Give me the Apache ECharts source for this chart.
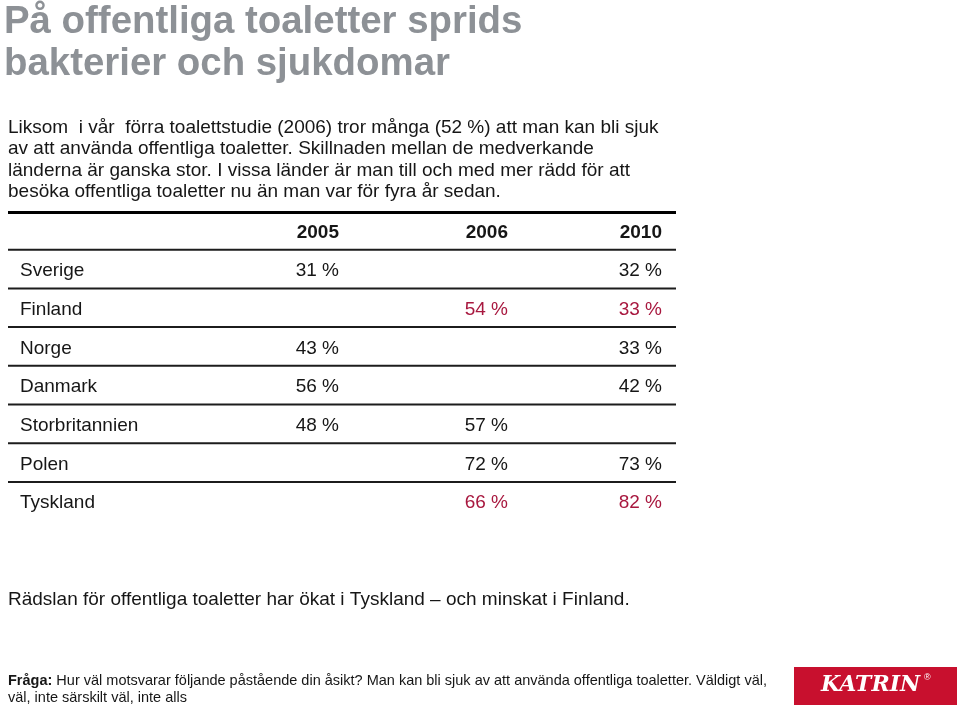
<!DOCTYPE html>
<html><head><meta charset="utf-8">
<script src="https://cdn.jsdelivr.net/npm/echarts@6/dist/echarts.min.js"></script>
<style>html,body{margin:0;padding:0;background:#fff}#c{width:960px;height:706px}</style>
</head><body><div id="c"></div>
<script>
// ---- content ----
const titleText = 'På offentliga toaletter sprids\nbakterier och sjukdomar';
const introLines = [
  'Liksom  i vår  förra toalettstudie (2006) tror många (52 %) att man kan bli sjuk',
  'av att använda offentliga toaletter. Skillnaden mellan de medverkande',
  'länderna är ganska stor. I vissa länder är man till och med mer rädd för att',
  'besöka offentliga toaletter nu än man var för fyra år sedan.'
];
const columns = ['2005', '2006', '2010'];
const countries = ['Sverige', 'Finland', 'Norge', 'Danmark', 'Storbritannien', 'Polen', 'Tyskland'];
const values2005 = [31, null, 43, 56, 48, null, null];
const values2006 = [null, 54, null, null, 57, 72, 66];
const values2010 = [32, 33, 33, 42, null, 73, 82];
const highlightedCountries = ['Finland', 'Tyskland'];
const conclusionText = 'Rädslan för offentliga toaletter har ökat i Tyskland – och minskat i Finland.';
const questionLabel = 'Fråga:';
const questionText = ' Hur väl motsvarar följande påstående din åsikt? Man kan bli sjuk av att använda offentliga toaletter. Väldigt väl,\nväl, inte särskilt väl, inte alls';
const brandText = 'KATRIN';

// ---- styles ----
const FONT = '"Liberation Sans", Arial, Helvetica, sans-serif';
const TEXT = '#161616';
const RED = '#a8183f';
const colRightPad = [3, 1, 14];

// ---- build table data ----
const valueColumns = [values2005, values2006, values2010];
const rowCats = [''].concat(countries);
const cellData = [];
columns.forEach((c, j) => cellData.push([j + 1, 0, 0, 0]));
countries.forEach((name, i) => {
  valueColumns.forEach((vals, j) => {
    if (vals[i] != null) cellData.push([j + 1, i + 1, vals[i], highlightedCountries.includes(name) ? 1 : 0]);
  });
});
const ruleData = rowCats.slice(0, rowCats.length - 1).map((c, i) => [0, i]);

const chart = echarts.init(document.getElementById('c'), null, {renderer: 'canvas'});
chart.setOption({
  backgroundColor: '#ffffff',
  animation: false,
  grid: {left: 8, right: 284, top: 211, bottom: 185.4, containLabel: false},
  xAxis: {type: 'category', data: [''].concat(columns), show: false},
  yAxis: {
    type: 'category', data: rowCats, inverse: true,
    axisLine: {show: false}, axisTick: {show: false}, splitLine: {show: false},
    axisLabel: {
      inside: true, margin: 12, align: 'left', interval: 0,
      formatter: function (v) { return v ? '{c|' + v + '}' : ''; },
      rich: {c: {fontSize: 19, color: TEXT, fontFamily: FONT, padding: [4, 0, 0, 0]}}
    }
  },
  series: [
    {
      type: 'custom', name: 'rules', data: ruleData, silent: true,
      encode: {x: 0, y: 1},
      renderItem: function (params, api) {
        const row = api.value(1);
        const p = api.coord([0, row]);
        const bh = api.size([0, 1])[1];
        const cs = params.coordSys;
        const children = [{
          type: 'line',
          shape: {x1: cs.x, y1: p[1] + bh / 2, x2: cs.x + cs.width, y2: p[1] + bh / 2},
          style: {stroke: '#1c1c1c', lineWidth: 2}
        }];
        if (row === 0) {
          children.push({
            type: 'line',
            shape: {x1: cs.x, y1: p[1] - bh / 2 + 1.5, x2: cs.x + cs.width, y2: p[1] - bh / 2 + 1.5},
            style: {stroke: '#000', lineWidth: 3}
          });
        }
        return {type: 'group', children: children};
      }
    },
    {
      type: 'custom', name: 'cells', data: cellData, silent: true,
      encode: {x: 0, y: 1},
      renderItem: function (params, api) {
        const col = api.value(0), row = api.value(1);
        const p = api.coord([col, row]);
        const bw = api.size([1, 0])[0];
        const header = row === 0;
        const txt = header ? columns[col - 1] : api.value(2) + ' %';
        const red = api.value(3) === 1;
        return {
          type: 'text',
          style: {
            text: txt, x: p[0] + bw / 2 - colRightPad[col - 1], y: p[1] + 2,
            align: 'right', verticalAlign: 'middle', textAlign: 'right', textVerticalAlign: 'middle',
            font: (header ? 'bold ' : '') + '19px ' + FONT,
            fill: red ? RED : TEXT
          }
        };
      }
    }
  ],
  graphic: [
    {
      type: 'text', left: 4, top: 1,
      style: {text: titleText, font: 'bold 38.4px ' + FONT, fill: '#8d9196', lineHeight: 42}
    },
    {
      type: 'text', left: 8, top: 117,
      style: {text: introLines.join('\n'), font: '19px ' + FONT, fill: TEXT, lineHeight: 21.5}
    },
    {
      type: 'text', left: 8, top: 589,
      style: {text: conclusionText, font: '19px ' + FONT, fill: TEXT, lineHeight: 22}
    },
    {
      type: 'text', left: 8, top: 672,
      style: {
        text: '{b|' + questionLabel + '}' + questionText,
        font: '14.5px ' + FONT, fill: TEXT, lineHeight: 17,
        rich: {b: {font: 'bold 14.5px ' + FONT, fill: TEXT, lineHeight: 17}}
      }
    },
    {
      type: 'rect', left: 794, top: 667,
      shape: {width: 163, height: 38}, style: {fill: '#c8102e'}
    },
    {
      type: 'text', left: 821, top: 674,
      style: {text: brandText, font: 'italic bold 22px "DejaVu Serif", serif', fill: '#ffffff'}
    },
    {
      type: 'text', left: 924, top: 673,
      style: {text: '®', font: '9px ' + FONT, fill: '#ffffff'}
    }
  ]
});
</script>
</body></html>
